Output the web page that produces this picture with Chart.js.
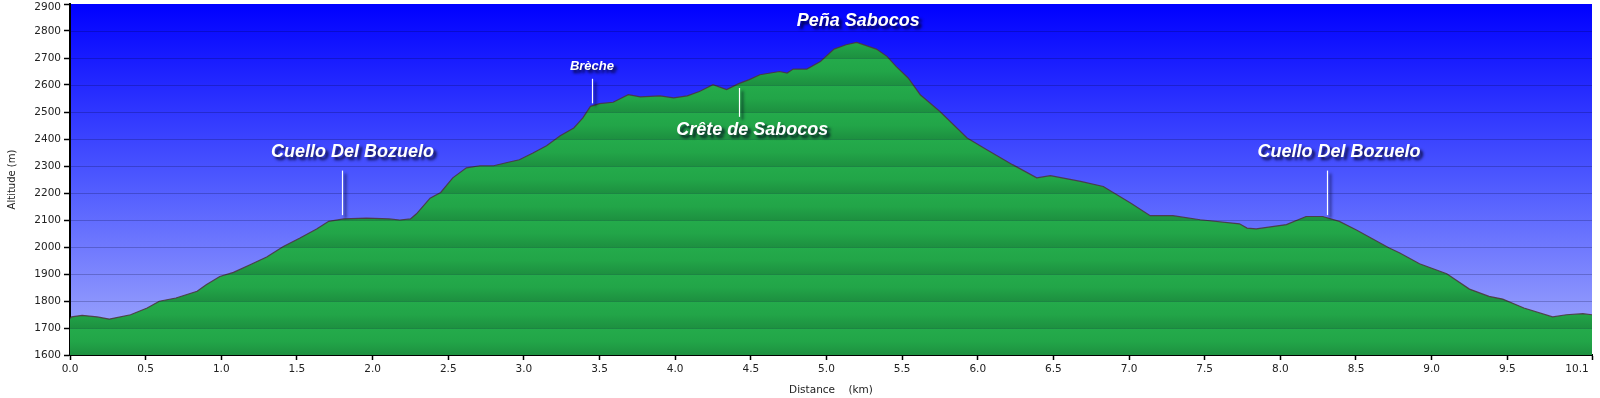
<!DOCTYPE html>
<html>
<head>
<meta charset="utf-8">
<script src="https://cdn.jsdelivr.net/npm/chart.js@4.4.1/dist/chart.umd.min.js"></script>
<style>
  body { margin: 0; background: #fff; }
  #wrap { width: 1600px; height: 398px; position: relative; }
</style>
</head>
<body>
<div id="wrap"><canvas id="profil"></canvas></div>
<script>
const distances = [0, 0.01, 0.08, 0.18, 0.26, 0.40, 0.51, 0.59, 0.70, 0.84, 0.90, 0.99, 1.08, 1.19, 1.30, 1.41, 1.52, 1.63, 1.71, 1.81,
    1.96, 2.11, 2.18, 2.25, 2.29, 2.38, 2.45, 2.53, 2.62, 2.71, 2.80, 2.89, 2.97, 3.06, 3.15, 3.24, 3.33, 3.39, 3.44, 3.50,
    3.59, 3.69, 3.77, 3.90, 3.99, 4.08, 4.16, 4.25, 4.34, 4.42, 4.49, 4.56, 4.69, 4.74, 4.78, 4.87, 4.96, 5.05, 5.13, 5.20,
    5.33, 5.40, 5.46, 5.54, 5.62, 5.75, 5.93, 6.06, 6.23, 6.39, 6.48, 6.68, 6.83, 7.01, 7.14, 7.29, 7.47, 7.73, 7.78, 7.84,
    8.04, 8.17, 8.28, 8.39, 8.50, 8.72, 8.79, 8.92, 9.10, 9.25, 9.38, 9.47, 9.61, 9.80, 9.89, 10.00, 10.06];
const altitudes = [1735, 1741, 1747, 1741, 1733, 1749, 1774, 1799, 1811, 1836, 1860, 1891, 1906, 1934, 1963, 2002, 2033, 2067, 2095, 2104,
    2107, 2104, 2100, 2104, 2123, 2181, 2202, 2256, 2293, 2301, 2301, 2313, 2323, 2348, 2375, 2412, 2441, 2478, 2521, 2531,
    2536, 2564, 2556, 2560, 2552, 2560, 2576, 2601, 2583, 2605, 2620, 2638, 2650, 2644, 2659, 2659, 2687, 2733, 2749, 2758,
    2733, 2706, 2669, 2626, 2564, 2502, 2404, 2360, 2305, 2256, 2264, 2243, 2224, 2163, 2116, 2116, 2101, 2086, 2070, 2067,
    2083, 2113, 2113, 2095, 2064, 1996, 1978, 1938, 1901, 1844, 1817, 1807, 1774, 1741, 1749, 1753, 1749];

const xTicks = [0, 0.5, 1, 1.5, 2, 2.5, 3, 3.5, 4, 4.5, 5, 5.5, 6, 6.5, 7, 7.5, 8, 8.5, 9, 9.5, 10.06];

// points remarquables
const lieux = ['Cuello Del Bozuelo', 'Brèche', 'Crête de Sabocos', 'Peña Sabocos', 'Cuello Del Bozuelo'];
const lieuxKm = [1.80, 3.45, 4.42, 5.20, 8.31];

// mise en page des étiquettes (en unités du graphique)
const etiquettes = [
    { textKm: 1.867, baseAlt: 2334, lineTop: 2283, lineBottom: 2118, size: 18 },
    { textKm: 3.45, baseAlt: 2654, lineTop: 2623, lineBottom: 2532, size: 13 },
    { textKm: 4.51, baseAlt: 2416, lineTop: 2589, lineBottom: 2482, size: 18 },
    { textKm: 5.21, baseAlt: 2817, lineTop: null, lineBottom: null, size: 18 },
    { textKm: 8.387, baseAlt: 2334, lineTop: 2283, lineBottom: 2118, size: 18 }
];

function fondVert(context) {
    const chart = context.chart;
    const area = chart.chartArea;
    if (!area) return '#22a748';
    const y = chart.scales.y;
    const top = y.getPixelForValue(y.max), bottom = y.getPixelForValue(y.min);
    const g = chart.ctx.createLinearGradient(0, top, 0, bottom);
    const n = (y.max - y.min) / 100;
    for (let i = 0; i < n; i++) {
        const a = i / n, b = (i + 1) / n;
        g.addColorStop(a + 0.0001, '#24ab4b');
        g.addColorStop(a + (b - a) * 0.5, '#22a548');
        g.addColorStop(b - 0.0001, '#1d9040');
    }
    return g;
}

const decor = {
    id: 'decor',
    beforeDraw(chart) {
        const { ctx, chartArea: a } = chart;
        const g = ctx.createLinearGradient(0, a.top, 0, a.bottom);
        g.addColorStop(0, '#0000ff');
        g.addColorStop(0.5, '#4d58ff');
        g.addColorStop(1, '#a6aefc');
        ctx.save();
        ctx.fillStyle = g;
        ctx.fillRect(a.left, a.top, a.right - a.left, a.bottom - a.top);
        ctx.restore();
    },
    afterDatasetsDraw(chart) {
        const { ctx, chartArea: a, scales: { x, y } } = chart;
        ctx.save();
        ctx.strokeStyle = 'rgba(0,0,40,0.22)';
        ctx.lineWidth = 1;
        y.ticks.forEach(t => {
            const py = Math.round(y.getPixelForValue(t.value)) + 0.5;
            if (py <= a.top + 1 || py >= a.bottom - 1) return;
            ctx.beginPath();
            ctx.moveTo(a.left, py);
            ctx.lineTo(a.right, py);
            ctx.stroke();
        });
        ctx.restore();

        ctx.save();
        ctx.shadowColor = 'rgba(0,0,30,0.85)';
        ctx.shadowOffsetX = 3;
        ctx.shadowOffsetY = 3;
        ctx.shadowBlur = 3;
        ctx.fillStyle = '#fff';
        ctx.strokeStyle = '#fff';
        ctx.lineWidth = 1.2;
        ctx.textAlign = 'center';
        ctx.textBaseline = 'alphabetic';
        lieux.forEach((nom, i) => {
            const e = etiquettes[i];
            if (e.lineTop !== null) {
                const px = Math.round(x.getPixelForValue(lieuxKm[i])) + 0.5;
                ctx.beginPath();
                ctx.moveTo(px, y.getPixelForValue(e.lineTop));
                ctx.lineTo(px, y.getPixelForValue(e.lineBottom));
                ctx.stroke();
            }
            ctx.font = 'italic bold ' + e.size + 'px "Liberation Sans", Arial, sans-serif';
            ctx.fillText(nom, x.getPixelForValue(e.textKm), y.getPixelForValue(e.baseAlt));
        });
        ctx.restore();
    }
};

const ctx = document.getElementById('profil').getContext('2d');
new Chart(ctx, {
    type: 'line',
    data: {
        datasets: [{
            label: 'Altitude',
            data: distances.map((d, i) => ({ x: d, y: altitudes[i] })),
            fill: 'start',
            backgroundColor: fondVert,
            borderColor: 'rgba(75,50,60,0.85)',
            borderWidth: 1.2,
            pointRadius: 0,
            tension: 0
        }]
    },
    options: {
        responsive: true,
        maintainAspectRatio: false,
        animation: false,
        layout: { padding: { top: 4, right: 8, left: 0, bottom: 0 } },
        plugins: { legend: { display: false }, tooltip: { enabled: false } },
        scales: {
            x: {
                type: 'linear',
                min: 0,
                max: 10.06,
                afterBuildTicks: s => { s.ticks = xTicks.map(v => ({ value: v })); },
                afterFit: s => { s.height = 43; s.paddingLeft = 0; s.paddingRight = 0; },
                ticks: {
                    autoSkip: false, maxRotation: 0, padding: 3,
                    color: '#222', font: { family: 'DejaVu Sans', size: 10.5 },
                    // la dernière étiquette est calée à gauche de sa graduation
                    callback: (v, i, t) => v.toFixed(1) + (i === t.length - 1 ? '\u00a0'.repeat(9) : '')
                },
                grid: { drawOnChartArea: false, drawTicks: true, tickLength: 5, tickColor: '#000', tickWidth: 1.5 },
                border: { color: '#000', width: 2 },
                title: {
                    display: true, text: 'Distance    (km)', color: '#222',
                    font: { family: 'DejaVu Sans', size: 10.5 }, padding: { top: 0, bottom: 1 }
                }
            },
            y: {
                min: 1600,
                max: 2900,
                afterFit: s => { s.width = 70; s.paddingTop = 0; s.paddingBottom = 0; },
                ticks: {
                    stepSize: 100, padding: 3,
                    color: '#222', font: { family: 'DejaVu Sans', size: 10.5, lineHeight: 0.7 },
                    // l'étiquette du haut descend sous sa graduation
                    callback: (v, i, t) => (i === t.length - 1 ? ['', String(v)] : String(v))
                },
                grid: { color: 'rgba(0,0,0,0)', drawTicks: true, tickLength: 6, tickColor: '#000', tickWidth: 1.5 },
                border: { color: '#000', width: 2 },
                title: {
                    display: true, text: 'Altitude (m)', color: '#222',
                    font: { family: 'DejaVu Sans', size: 10 }, padding: { top: 6, bottom: 0 }
                }
            }
        }
    },
    plugins: [decor]
});
</script>
</body>
</html>
